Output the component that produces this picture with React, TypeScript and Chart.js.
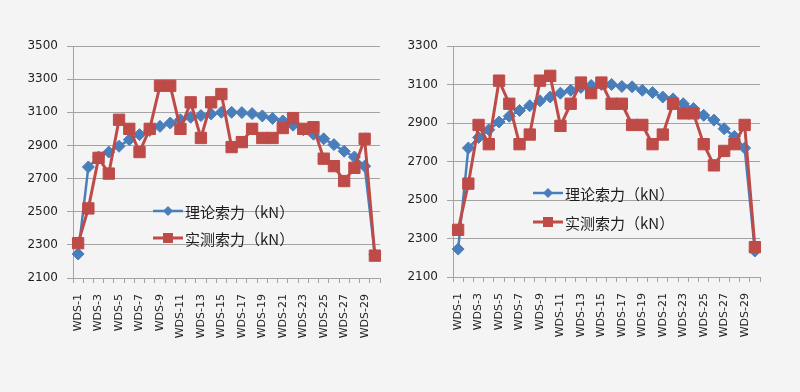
import React, { useEffect, useRef } from 'react';
import { Chart, registerables } from 'chart.js';
Chart.register(...registerables);

const categories = [
  'WDS-1', 'WDS-2', 'WDS-3', 'WDS-4', 'WDS-5', 'WDS-6', 'WDS-7', 'WDS-8', 'WDS-9', 'WDS-10',
  'WDS-11', 'WDS-12', 'WDS-13', 'WDS-14', 'WDS-15', 'WDS-16', 'WDS-17', 'WDS-18', 'WDS-19', 'WDS-20',
  'WDS-21', 'WDS-22', 'WDS-23', 'WDS-24', 'WDS-25', 'WDS-26', 'WDS-27', 'WDS-28', 'WDS-29', 'WDS-30',
];

const seriesNames = ['理论索力（kN）', '实测索力（kN）'];

const leftTheory = [
  2245, 2770, 2830, 2860, 2895, 2935, 2965, 2990, 3015, 3035,
  3055, 3070, 3080, 3090, 3100, 3100, 3098, 3092, 3078, 3063,
  3048, 3022, 2995, 2968, 2940, 2905, 2865, 2830, 2775, 2240,
];
const leftMeasured = [
  2310, 2520, 2825, 2730, 3055, 3000, 2860, 3000, 3260, 3260,
  3000, 3160, 2945, 3160, 3210, 2890, 2920, 3000, 2945, 2945,
  3005, 3065, 3000, 3010, 2820, 2775, 2685, 2765, 2940, 2235,
];

const rightTheory = [
  2245, 2770, 2825, 2865, 2905, 2935, 2965, 2990, 3015, 3035,
  3055, 3070, 3085, 3095, 3100, 3100, 3090, 3088, 3070, 3058,
  3035, 3025, 3000, 2975, 2940, 2915, 2870, 2830, 2770, 2235,
];
const rightMeasured = [
  2345, 2585, 2890, 2790, 3120, 3000, 2790, 2840, 3120, 3145,
  2885, 3000, 3110, 3055, 3110, 3000, 3000, 2890, 2890, 2790,
  2840, 3000, 2950, 2950, 2790, 2680, 2755, 2790, 2890, 2255,
];

const leftYRange = [2100, 3500];
const rightYRange = [2100, 3300];
const yStep = 200;

const BLUE = '#4a7ebb';
const RED = '#be4b48';
const GRID = '#a3a3a3';
const TEXT = '#1e1e1e';

const insideLegend = {
  id: 'insideLegend',
  afterDraw(chart: any) {
    const o = chart.options.plugins.insideLegend;
    if (!o) return;
    const ctx = chart.ctx;
    chart.data.datasets.forEach((ds: any, i: number) => {
      const y = o.y[i];
      ctx.save();
      ctx.strokeStyle = ds.borderColor;
      ctx.lineWidth = ds.borderWidth;
      ctx.beginPath();
      ctx.moveTo(o.x, y);
      ctx.lineTo(o.x + o.lineLen, y);
      ctx.stroke();
      const cx = o.x + o.lineLen / 2;
      ctx.fillStyle = ds.pointBackgroundColor;
      ctx.beginPath();
      if (ds.pointStyle === 'rectRot') {
        const r = 5;
        ctx.moveTo(cx, y - r);
        ctx.lineTo(cx + r, y);
        ctx.lineTo(cx, y + r);
        ctx.lineTo(cx - r, y);
        ctx.closePath();
      } else {
        const s = 5;
        ctx.rect(cx - s, y - s, 2 * s, 2 * s);
      }
      ctx.fill();
      ctx.fillStyle = TEXT;
      ctx.font = '15px "Noto Sans CJK SC", sans-serif';
      ctx.textBaseline = 'middle';
      ctx.textAlign = 'left';
      ctx.fillText(ds.label, o.x + o.lineLen + 2, y + 1);
      ctx.restore();
    });
  },
};

type Cfg = {
  theory: number[];
  measured: number[];
  yRange: number[];
  axisWidth: number;
  xHeight: number;
  padRight: number;
  legendX: number;
  legendY: number[];
};

function LineChart({ cfg }: { cfg: Cfg }) {
  const ref = useRef<HTMLCanvasElement | null>(null);
  useEffect(() => {
    if (!ref.current) return;
    const chart = new Chart(ref.current, {
      type: 'line',
      data: {
        labels: categories,
        datasets: [
          {
            label: seriesNames[0],
            data: cfg.theory,
            borderColor: BLUE,
            backgroundColor: BLUE,
            pointBackgroundColor: BLUE,
            pointBorderColor: BLUE,
            borderWidth: 2.5,
            pointStyle: 'rectRot',
            pointRadius: 6,
            pointBorderWidth: 1,
            tension: 0,
            order: 1,
            clip: false,
          } as any,
          {
            label: seriesNames[1],
            data: cfg.measured,
            borderColor: RED,
            backgroundColor: RED,
            pointBackgroundColor: RED,
            pointBorderColor: RED,
            borderWidth: 3,
            pointStyle: 'rect',
            pointRadius: 8,
            pointBorderWidth: 1,
            tension: 0,
            order: 0,
            clip: false,
          } as any,
        ],
      },
      options: {
        animation: false,
        responsive: false,
        devicePixelRatio: 1,
        layout: { padding: { top: 46, right: cfg.padRight, left: 0, bottom: 0 } },
        plugins: {
          legend: { display: false },
          tooltip: { enabled: false },
          insideLegend: { x: cfg.legendX, y: cfg.legendY, lineLen: 30 },
        } as any,
        scales: {
          x: {
            type: 'category',
            offset: true,
            grid: {
              display: true,
              drawOnChartArea: false,
              drawTicks: true,
              offset: true,
              tickLength: 5,
              color: GRID,
            },
            border: { display: true, color: GRID },
            ticks: {
              autoSkip: false,
              minRotation: 90,
              maxRotation: 90,
              padding: 11,
              color: TEXT,
              font: { family: '"DejaVu Sans", sans-serif', size: 11 },
              callback: (_v: any, i: number) => (i % 2 === 0 ? categories[i] : ''),
            },
            afterFit: (s: any) => {
              s.height = cfg.xHeight;
            },
          },
          y: {
            min: cfg.yRange[0],
            max: cfg.yRange[1],
            grid: { color: GRID, tickLength: 6, drawTicks: true },
            border: { display: true, color: GRID },
            ticks: {
              stepSize: yStep,
              padding: 9,
              color: TEXT,
              font: { family: '"DejaVu Sans", sans-serif', size: 12 },
              callback: (v: any) => String(v),
            },
            afterFit: (s: any) => {
              s.width = cfg.axisWidth;
            },
          },
        },
      },
      plugins: [insideLegend],
    });
    return () => chart.destroy();
  }, []);
  return <canvas ref={ref} width={400} height={392} style={{ display: 'block', width: 400, height: 392 }} />;
}

export default function App() {
  const leftCfg: Cfg = {
    theory: leftTheory,
    measured: leftMeasured,
    yRange: leftYRange,
    axisWidth: 73,
    xHeight: 114,
    padRight: 20,
    legendX: 153,
    legendY: [211, 238],
  };
  const rightCfg: Cfg = {
    theory: rightTheory,
    measured: rightMeasured,
    yRange: rightYRange,
    axisWidth: 53,
    xHeight: 115,
    padRight: 40,
    legendX: 133,
    legendY: [193, 222],
  };
  return (
    <div
      style={{
        position: 'fixed',
        left: 0,
        top: 0,
        width: 800,
        height: 392,
        background: '#f4f4f4',
        display: 'flex',
      }}
    >
      <LineChart cfg={leftCfg} />
      <LineChart cfg={rightCfg} />
    </div>
  );
}
